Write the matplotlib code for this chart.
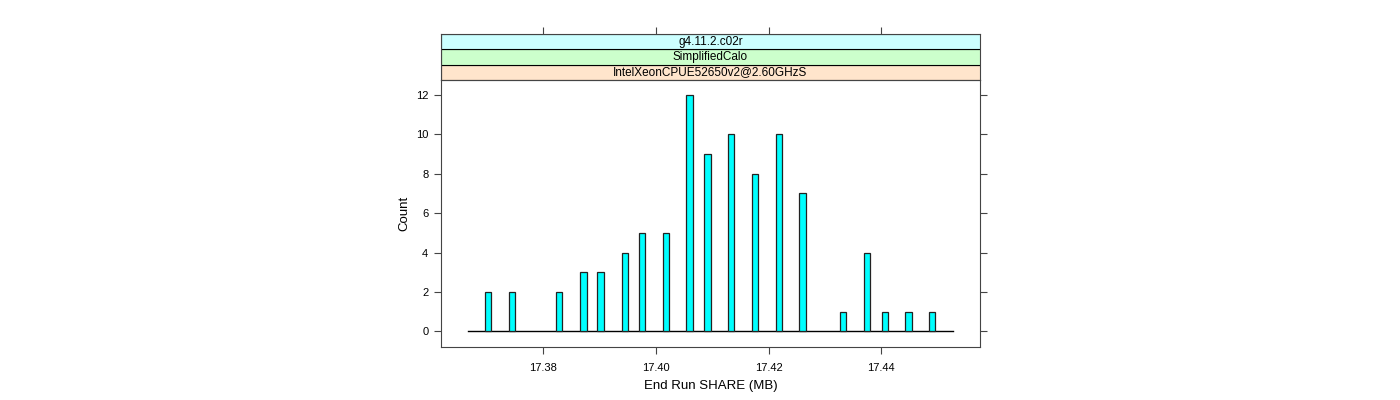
import matplotlib.pyplot as plt
from matplotlib.patches import Rectangle

plt.rcParams['font.family'] = ['Liberation Sans', 'DejaVu Sans']

# bar positions (MB) and counts
share = [17.3703, 17.3745, 17.3829, 17.3872, 17.3902, 17.3945, 17.3976,
         17.4018, 17.4060, 17.4092, 17.4134, 17.4176, 17.4218, 17.4260,
         17.4332, 17.4375, 17.4406, 17.4448, 17.4490]
counts = [2, 2, 2, 3, 3, 4, 5, 5, 12, 9, 10, 8, 10, 7, 1, 4, 1, 1, 1]
base_range = [17.3667, 17.4528]
xticks = [17.38, 17.40, 17.42, 17.44]
yticks = [0, 2, 4, 6, 8, 10, 12]
strips = ["IntelXeonCPUE52650v2@2.60GHzS", "SimplifiedCalo", "g4.11.2.c02r"]
strip_cols = ["#ffe5cc", "#ccffcc", "#ccffff"]

fig = plt.figure(figsize=(14, 4), dpi=100)
frame = '#444444'

ax = fig.add_axes([0.3149, 0.1318, 0.3851, 0.6682])
ax.bar(share, counts, width=0.00112, color='#00ffff', edgecolor='#222222',
       linewidth=0.9, zorder=3)
ax.plot(base_range, [0, 0], color='black', lw=1, zorder=2)
ax.set_xlim(17.3619, 17.4575)
ax.set_ylim(-0.81, 12.76)
ax.set_xticks(xticks)
ax.set_xticklabels([f"{t:.2f}" for t in xticks])
ax.set_yticks(yticks)
ax.tick_params(axis='both', direction='out', length=5, color=frame,
               labelsize=8, pad=4, right=True)
ax.tick_params(axis='x', pad=6)
for s in ax.spines.values():
    s.set_color(frame)
ax.set_xlabel("End Run SHARE (MB)", fontsize=9.5, labelpad=5)
ax.set_ylabel("Count", fontsize=9.5, labelpad=4)

# strips above the panel
sax = fig.add_axes([0.3149, 0.8, 0.3851, 0.115])
sax.set_xlim(ax.get_xlim())
sax.set_ylim(0, 3)
for i, (lab, col) in enumerate(zip(strips, strip_cols)):
    sax.add_patch(Rectangle((ax.get_xlim()[0], i), 1, 1, facecolor=col,
                            edgecolor='black', lw=0.8))
    sax.text(sum(ax.get_xlim()) / 2, i + 0.5, lab, ha='center', va='center',
             fontsize=8.5)
sax.set_yticks([])
sax.set_xticks(xticks)
sax.tick_params(axis='x', direction='out', length=5, color=frame,
                labelbottom=False, bottom=False, top=True)
for s in sax.spines.values():
    s.set_color(frame)

fig.savefig("out.png", dpi=100)
